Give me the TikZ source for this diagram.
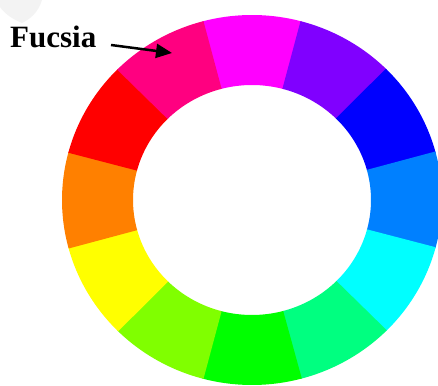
\documentclass[tikz,border=0pt]{standalone}
\usepackage{fontspec}
\setmainfont{Liberation Serif}
\usetikzlibrary{arrows.meta}
\definecolor{cMagenta}{HTML}{FF00FF}
\definecolor{cViolet}{HTML}{8000FF}
\definecolor{cBlue}{HTML}{0000FF}
\definecolor{cAzure}{HTML}{0080FF}
\definecolor{cCyan}{HTML}{00FFFF}
\definecolor{cSpring}{HTML}{00FF80}
\definecolor{cGreen}{HTML}{00FF00}
\definecolor{cChart}{HTML}{80FF00}
\definecolor{cYellow}{HTML}{FFFF00}
\definecolor{cOrange}{HTML}{FF8000}
\definecolor{cRed}{HTML}{FF0000}
\definecolor{cFucsia}{HTML}{FF0080}
\definecolor{cMark}{HTML}{F3F3F3}
\tikzset{
  labeltext/.style={inner sep=0pt, anchor=base west, font=\fontsize{31}{31}\selectfont\bfseries},
  pointer/.style={line width=2.5pt, -{Triangle[length=16pt,width=14pt]}}
}
\begin{document}
\begin{tikzpicture}[x=1pt,y=1pt]
\useasboundingbox (0,0) rectangle (438,385);
\fill[white] (0,0) rectangle (438,385);
\clip (0,0) rectangle (438,385);
% faint watermark blob
\fill[cMark] (0,385) -- (42,385) .. controls (38,372) and (30,366) .. (22,362) .. controls (12,366) and (4,372) .. (0,378) -- cycle;
\begin{scope}[shift={(252,185)}]
\foreach \a/\c in {90/cMagenta,60/cViolet,30/cBlue,0/cAzure,-30/cCyan,-60/cSpring,-90/cGreen,-120/cChart,-150/cYellow,180/cOrange,150/cRed,120/cFucsia}{
  \fill[\c] ({\a-15.2}:190pt and 185pt) arc[start angle={\a-15.2}, end angle={\a+15.2}, x radius=190pt, y radius=185pt]
    -- ({\a+15.2}:119pt and 115pt) arc[start angle={\a+15.2}, end angle={\a-15.2}, x radius=119pt, y radius=115pt] -- cycle;
}
\end{scope}
\node[labeltext] (fucsia) at (10,337) {Fucsia};
\coordinate (tail) at (111,340);
\coordinate (tip) at (172,332);
\draw[pointer] (tail) -- (tip);
\end{tikzpicture}
\end{document}
